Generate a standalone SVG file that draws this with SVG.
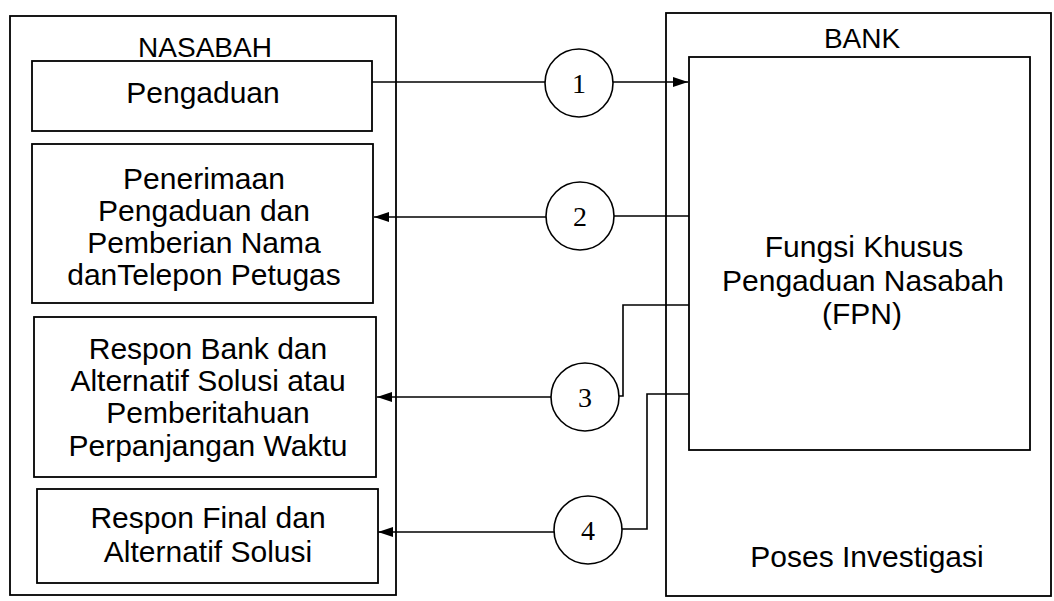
<svg xmlns="http://www.w3.org/2000/svg" width="1054" height="601" viewBox="0 0 1054 601">
<style>
.box{fill:none;stroke:#000;stroke-width:1.8}
.ln{fill:none;stroke:#000;stroke-width:1.6}
.t{font-family:"Liberation Sans",Arial,sans-serif;font-size:30px;fill:#000;text-anchor:middle}
.h{font-size:28px}
.n{font-family:"Liberation Serif","Times New Roman",serif;font-size:28px;fill:#000;text-anchor:middle}
.c{fill:#fff;stroke:#000;stroke-width:1.6}
</style>
<defs>
<marker id="ah" markerUnits="userSpaceOnUse" markerWidth="16" markerHeight="12" refX="15" refY="5" orient="auto">
<path d="M0,0 L15,5 L0,10 z" fill="#000"/>
</marker>
</defs>
<rect width="1054" height="601" fill="#fff"/>
<g id="nasabah">
<rect class="box" x="10" y="16" width="386" height="579"/>
<text class="t h" x="205" y="57">NASABAH</text>
</g>
<g id="pengaduan">
<rect class="box" x="32" y="61" width="340" height="70"/>
<text class="t" x="203" y="103">Pengaduan</text>
</g>
<g id="penerimaan">
<rect class="box" x="32" y="144" width="341" height="159"/>
<text class="t" x="204" y="189">Penerimaan</text>
<text class="t" x="204" y="221">Pengaduan dan</text>
<text class="t" x="204" y="253">Pemberian Nama</text>
<text class="t" x="204" y="285">danTelepon Petugas</text>
</g>
<g id="respon-bank">
<rect class="box" x="34" y="317" width="342" height="160"/>
<text class="t" x="208" y="359">Respon Bank dan</text>
<text class="t" x="208" y="391">Alternatif Solusi atau</text>
<text class="t" x="208" y="423">Pemberitahuan</text>
<text class="t" x="208" y="456">Perpanjangan Waktu</text>
</g>
<g id="respon-final">
<rect class="box" x="37" y="489" width="341" height="94"/>
<text class="t" x="208" y="528">Respon Final dan</text>
<text class="t" x="208" y="562">Alternatif Solusi</text>
</g>
<g id="bank">
<rect class="box" x="666" y="13" width="385" height="583"/>
<text class="t h" x="862" y="48">BANK</text>
<text class="t" x="867" y="567">Poses Investigasi</text>
</g>
<g id="fpn">
<rect class="box" x="689" y="57" width="341" height="393"/>
<text class="t" x="864" y="257">Fungsi Khusus</text>
<text class="t" x="863" y="291">Pengaduan Nasabah</text>
<text class="t" x="862" y="324">(FPN)</text>
</g>
<g id="connectors">
<path class="ln" d="M372,82 H545"/>
<path class="ln" d="M613,82 H688" marker-end="url(#ah)"/>
<path class="ln" d="M689,216 H614"/>
<path class="ln" d="M546,217 H374" marker-end="url(#ah)"/>
<path class="ln" d="M689,305 H623 V396 H619"/>
<path class="ln" d="M551,397 H377" marker-end="url(#ah)"/>
<path class="ln" d="M689,394 H647 V529 H622"/>
<path class="ln" d="M554,532 H378" marker-end="url(#ah)"/>
</g>
<g id="step1"><circle class="c" cx="579" cy="83" r="34"/><text class="n" x="579" y="93">1</text></g>
<g id="step2"><circle class="c" cx="580" cy="216" r="34"/><text class="n" x="580" y="226">2</text></g>
<g id="step3"><circle class="c" cx="585" cy="397" r="34"/><text class="n" x="585" y="407">3</text></g>
<g id="step4"><circle class="c" cx="588" cy="530" r="34"/><text class="n" x="588" y="540">4</text></g>
</svg>
